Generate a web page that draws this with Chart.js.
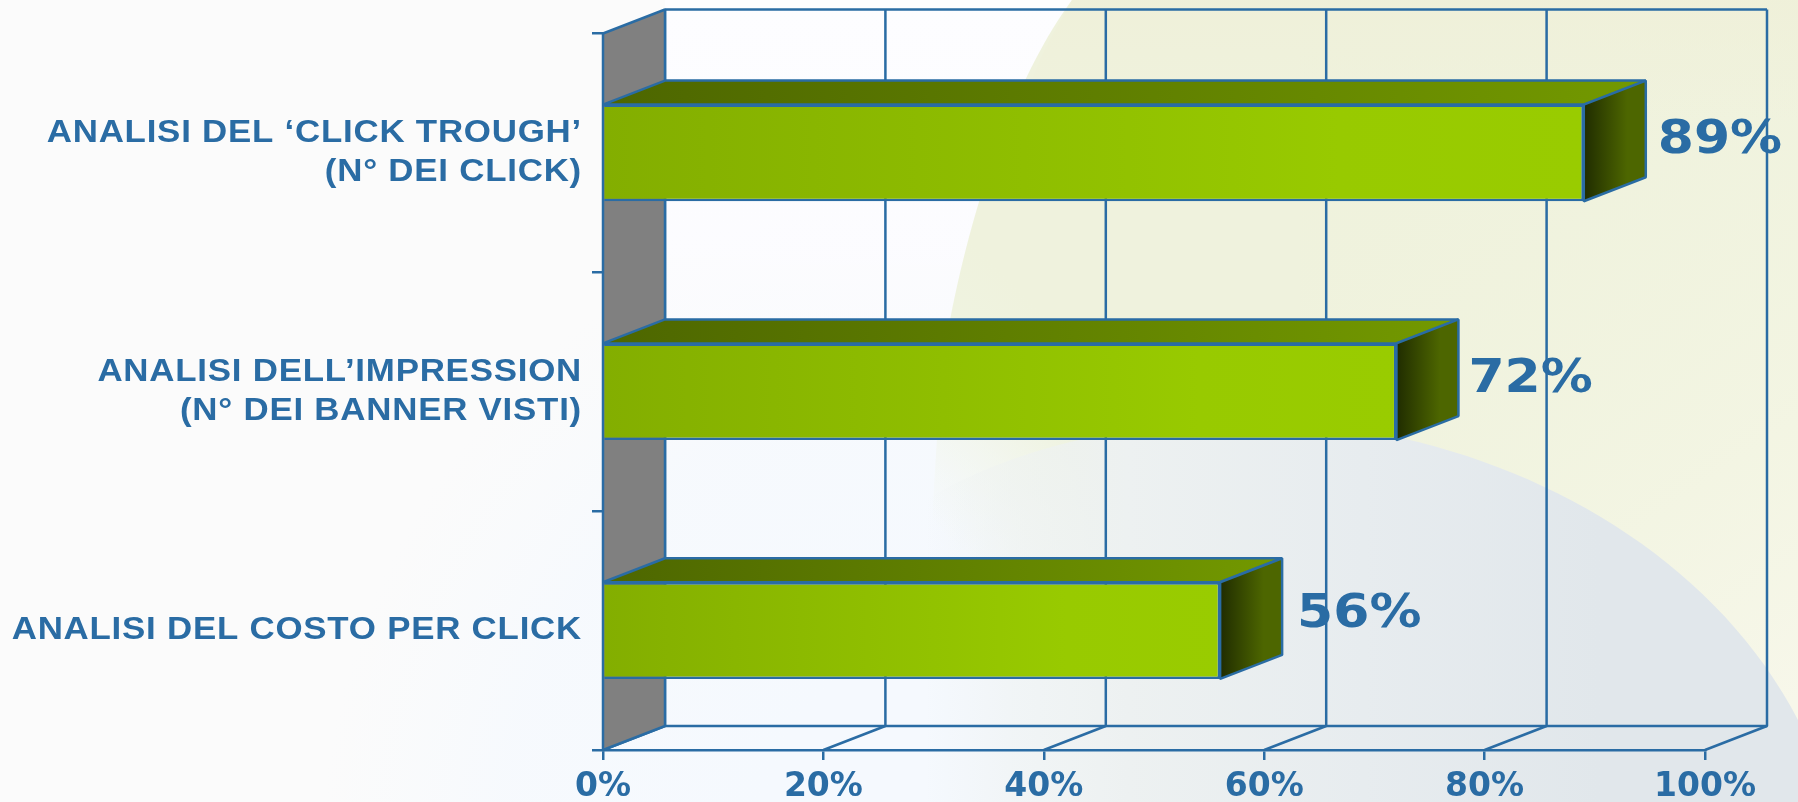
<!DOCTYPE html>
<html><head><meta charset="utf-8">
<style>html,body{margin:0;padding:0;background:#fbfbfb}canvas{display:block}</style>
<script src="https://cdn.jsdelivr.net/npm/chart.js@4"></script>
</head><body><canvas id="c" width="1798" height="802"></canvas>
<script>
const categories = [["ANALISI DEL ‘CLICK TROUGH’","(N° DEI CLICK)"],["ANALISI DELL’IMPRESSION","(N° DEI BANNER VISTI)"],"ANALISI DEL COSTO PER CLICK"];
const values = [89,72,56];
const BLUE='#2a6ca4';
const DX=62, DY=24;
const LABEL_SHIFT_X=[-2,-4,1], LABEL_SHIFT_Y=[-1,-1,-4.5];

function lin(ctx,x0,x1,stops){const g=ctx.createLinearGradient(x0,0,x1,0);stops.forEach(s=>g.addColorStop(s[0],s[1]));return g;}

const backdrop={id:'backdrop',beforeDraw(chart){
  const c=chart.ctx;c.save();
  c.fillStyle='#fbfbfb';c.fillRect(0,0,1798,802);
  // pale-blue disc, lower left, soft edge
  let g=c.createRadialGradient(1000,860,240,1000,860,680);
  g.addColorStop(0,'rgba(245,249,254,1)');g.addColorStop(.6,'rgba(245,249,254,.75)');g.addColorStop(.85,'rgba(247,250,253,.35)');g.addColorStop(1,'rgba(247,250,253,0)');
  c.fillStyle=g;c.fillRect(300,180,900,622);
  // faint lavender-white upper chart zone
  g=c.createLinearGradient(0,0,0,420);g.addColorStop(0,'rgba(253,253,255,1)');g.addColorStop(.6,'rgba(252,252,255,.9)');g.addColorStop(1,'rgba(250,251,255,0)');
  c.fillStyle=g;c.fillRect(665,0,420,420);
  // green swoosh: crisp up top, dissolving toward the lower left
  g=c.createLinearGradient(930,520,1090,360);
  g.addColorStop(0,'rgba(239,243,224,0)');g.addColorStop(.35,'rgba(239,243,224,.45)');g.addColorStop(.7,'rgba(239,243,224,1)');g.addColorStop(1,'#eff2dd');
  c.fillStyle=g;c.beginPath();c.moveTo(1072,0);c.bezierCurveTo(1020,70,975,190,950,320);c.bezierCurveTo(935,420,930,520,925,802);c.lineTo(1798,802);c.lineTo(1798,0);c.closePath();c.fill();
  // colour drift of the swoosh: darker top, creamier low on the right
  g=c.createLinearGradient(1300,0,1798,700);
  g.addColorStop(0,'rgba(238,240,216,0)');g.addColorStop(.6,'rgba(244,246,228,.5)');g.addColorStop(1,'rgba(247,247,234,1)');
  c.fillStyle=g;c.fillRect(1300,0,498,802);
  g=c.createLinearGradient(0,0,0,120);g.addColorStop(0,'rgba(239,240,217,.9)');g.addColorStop(1,'rgba(239,240,217,0)');
  c.fillStyle=g;c.beginPath();c.moveTo(1072,0);c.bezierCurveTo(1050,40,1035,60,1020,120);c.lineTo(1798,120);c.lineTo(1798,0);c.closePath();c.fill();
  // blue dome, fading left
  g=c.createLinearGradient(925,0,1600,0);g.addColorStop(0,'rgba(238,242,243,0)');g.addColorStop(.13,'rgba(238,242,241,.6)');g.addColorStop(.3,'rgba(237,241,241,1)');g.addColorStop(.65,'#e7ecef');g.addColorStop(1,'#e1e7eb');
  c.fillStyle=g;c.beginPath();c.moveTo(925,500);c.bezierCurveTo(1050,425,1230,405,1387,435);c.bezierCurveTo(1560,470,1720,570,1798,720);c.lineTo(1798,802);c.lineTo(925,802);c.closePath();c.fill();
  c.restore();
}};

function poly(c,pts,fill){c.beginPath();pts.forEach((p,i)=>i?c.lineTo(p[0],p[1]):c.moveTo(p[0],p[1]));c.closePath();if(fill){c.fillStyle=fill;c.fill();}c.stroke();}

const box3d={id:'box3d',
afterLayout(chart){
  // widen the category labels about their right edge, as in the source
  const y=chart.scales.y;
  if(y._wrapped)return;y._wrapped=true;
  const orig=y.drawLabels;
  y.drawLabels=function(area){
    const c=this.ctx,rx=chart.chartArea.left-21;
    c.save();c.translate(rx,0);c.scale(1.09,1);c.translate(-rx,0);c.letterSpacing='0.7px';
    orig.call(this,area);c.restore();c.letterSpacing='0px';
  };
},
beforeDatasetsDraw(chart){
  const c=chart.ctx,x=chart.scales.x,a=chart.chartArea;
  c.save();c.strokeStyle=BLUE;c.lineWidth=2.5;c.lineJoin='bevel';
  const L=a.left,T=a.top,B=a.bottom;
  // back-plane frame, grid lines and floor spokes, all from the value scale
  c.beginPath();c.moveTo(L+DX,T-DY);c.lineTo(x.getPixelForValue(100)+DX,T-DY);
  c.moveTo(L+DX,B-DY);c.lineTo(x.getPixelForValue(100)+DX,B-DY);c.stroke();
  x.ticks.forEach(t=>{const p=x.getPixelForValue(t.value);
    c.beginPath();c.moveTo(p+DX,T-DY);c.lineTo(p+DX,B-DY);c.lineTo(p,B);c.stroke();});
  // side wall
  poly(c,[[L,T],[L+DX,T-DY],[L+DX,B-DY],[L,B]],'#808080');
  // bar top and end faces
  chart.getDatasetMeta(0).data.forEach(b=>{
    const t=b.y-b.height/2,bo=b.y+b.height/2,r=b.x;
    poly(c,[[L,t],[L+DX,t-DY],[r+DX,t-DY],[r,t]],lin(c,L,r+DX,[[0,'#4d6600'],[1,'#739900']]));
    poly(c,[[r,t],[r+DX,t-DY],[r+DX,bo-DY],[r,bo]],lin(c,r,r+DX,[[0,'#202c00'],[.7,'#4d6600'],[1,'#4d6600']]));
  });
  c.restore();
},
afterDatasetsDraw(chart){
  const c=chart.ctx;c.save();c.fillStyle=BLUE;c.textAlign='left';c.textBaseline='alphabetic';
  chart.getDatasetMeta(0).data.forEach((b,i)=>{
    c.save();c.translate(b.x+DX+14+LABEL_SHIFT_X[i],b.y+1+LABEL_SHIFT_Y[i]);c.scale(1.13,1);
    c.font='bold 46px "DejaVu Sans"';c.fillText(values[i]+'%',0,0);c.restore();
  });
  c.restore();
}};

new Chart(document.getElementById('c'),{
  type:'bar',
  data:{labels:categories,datasets:[{data:values,barPercentage:.405,categoryPercentage:1,
    borderColor:BLUE,borderWidth:2.5,
    backgroundColor(ctx){
      const ch=ctx.chart;if(!ch.chartArea||ctx.raw===undefined||!ch.scales.x)return '#8fbf00';
      return lin(ch.ctx,ch.chartArea.left,ch.scales.x.getPixelForValue(ctx.raw),[[0,'#83ae00'],[.75,'#98ca00'],[1,'#99cc00']]);
    }}]},
  options:{
    indexAxis:'y',responsive:false,animation:false,
    layout:{padding:{left:0,top:33.5,right:93,bottom:0}},
    plugins:{legend:{display:false},tooltip:{enabled:false},title:{display:false}},
    scales:{
      x:{min:0,max:100,
        afterFit(s){s.height=52;},
        grid:{drawOnChartArea:false,drawTicks:true,tickLength:10,color:BLUE,lineWidth:2.5},
        border:{color:BLUE,width:2.5},
        ticks:{stepSize:20,maxRotation:0,padding:8,color:BLUE,font:{family:'"DejaVu Sans"',weight:'bold',size:33},callback:v=>v+'%'}},
      y:{afterFit(s){s.width=603;},
        grid:{drawOnChartArea:false,drawTicks:true,tickLength:11,color:BLUE,lineWidth:2.5},
        border:{color:BLUE,width:2.5},
        ticks:{padding:10,color:BLUE,autoSkip:false,font:{family:'"Liberation Sans"',weight:'bold',size:32,lineHeight:1.22}}}
    }
  },
  plugins:[backdrop,box3d]
});
</script></body></html>
